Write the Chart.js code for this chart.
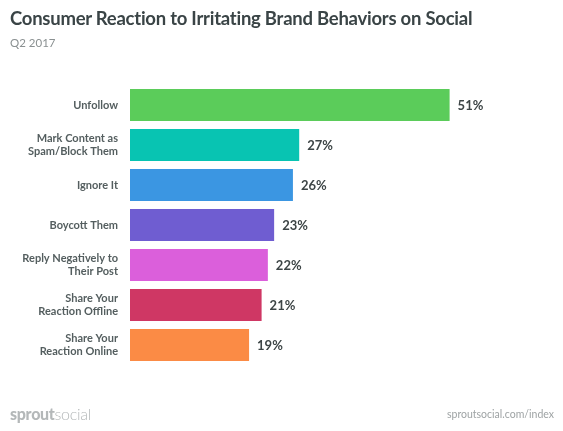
<!DOCTYPE html>
<html>
<head>
<meta charset="utf-8">
<script src="https://cdn.jsdelivr.net/npm/chart.js@4"></script>
<style>
  html, body { margin: 0; padding: 0; background: #fff; }
  body { width: 563px; height: 431px; position: relative; overflow: hidden; font-family: Lato, "Open Sans", sans-serif; }
  #wrap { position: absolute; left: 0; top: 0; width: 563px; height: 431px; }
  .title { position: absolute; left: 10px; top: 7px; font-size: 18.5px; letter-spacing: -0.25px; font-weight: 700; color: #3a4446; white-space: nowrap; }
  .sub { position: absolute; left: 10px; top: 36px; font-size: 11.5px; color: #8a9091; }
  .logo { position: absolute; left: 10px; top: 404px; font-size: 16px; color: #b4b8b9; letter-spacing: -0.3px; }
  .logo b { font-weight: 900; }
  .logo span { font-weight: 300; }
  .src { position: absolute; right: 9px; top: 408px; font-size: 10.5px; color: #9ea3a4; }
</style>
</head>
<body>
<div id="wrap"><canvas id="chart"></canvas></div>
<div class="title">Consumer Reaction to Irritating Brand Behaviors on Social</div>
<div class="sub">Q2 2017</div>
<div class="logo"><b>sprout</b><span>social</span></div>
<div class="src">sproutsocial.com/index</div>
<script>
// categories and values
const categories = [
    ["Unfollow"],
    ["Mark Content as", "Spam/Block Them"],
    ["Ignore It"],
    ["Boycott Them"],
    ["Reply Negatively to", "Their Post"],
    ["Share Your", "Reaction Offline"],
    ["Share Your", "Reaction Online"]
];
const values = [51, 27, 26, 23, 22, 21, 19];
const barColors = ["#5bcc5a", "#08c4b2", "#3b96e2", "#6f5dd1", "#db5fdb", "#cf3764", "#fb8b45"];

// value labels at the end of each bar
const valueLabels = {
    id: "valueLabels",
    afterDatasetsDraw(chart) {
        const ctx = chart.ctx;
        const meta = chart.getDatasetMeta(0);
        ctx.save();
        ctx.font = "700 13px Lato, sans-serif";
        ctx.fillStyle = "#3d4546";
        ctx.textAlign = "left";
        ctx.textBaseline = "middle";
        meta.data.forEach((bar, i) => {
            ctx.fillText(values[i] + "%", bar.x + 8, bar.y + 1);
        });
        ctx.restore();
    }
};

new Chart(document.getElementById("chart"), {
    type: "bar",
    data: {
        labels: categories,
        datasets: [{
            data: values,
            backgroundColor: barColors,
            barPercentage: 0.8,
            categoryPercentage: 1.0
        }]
    },
    options: {
        indexAxis: "y",
        responsive: true,
        maintainAspectRatio: false,
        animation: false,
        layout: { padding: { top: 85, bottom: 66, left: 0, right: 57 } },
        plugins: {
            legend: { display: false },
            tooltip: { enabled: false }
        },
        scales: {
            x: { display: false, min: 0, max: 60 },
            y: {
                grid: { display: false, drawTicks: false },
                border: { display: false },
                afterFit(scale) { scale.width = 130; },
                ticks: {
                    padding: 12,
                    color: "#545e5f",
                    font: { family: "Lato, sans-serif", size: 11, weight: "700", lineHeight: 1.15 }
                }
            }
        }
    },
    plugins: [valueLabels]
});
</script>
</body>
</html>
